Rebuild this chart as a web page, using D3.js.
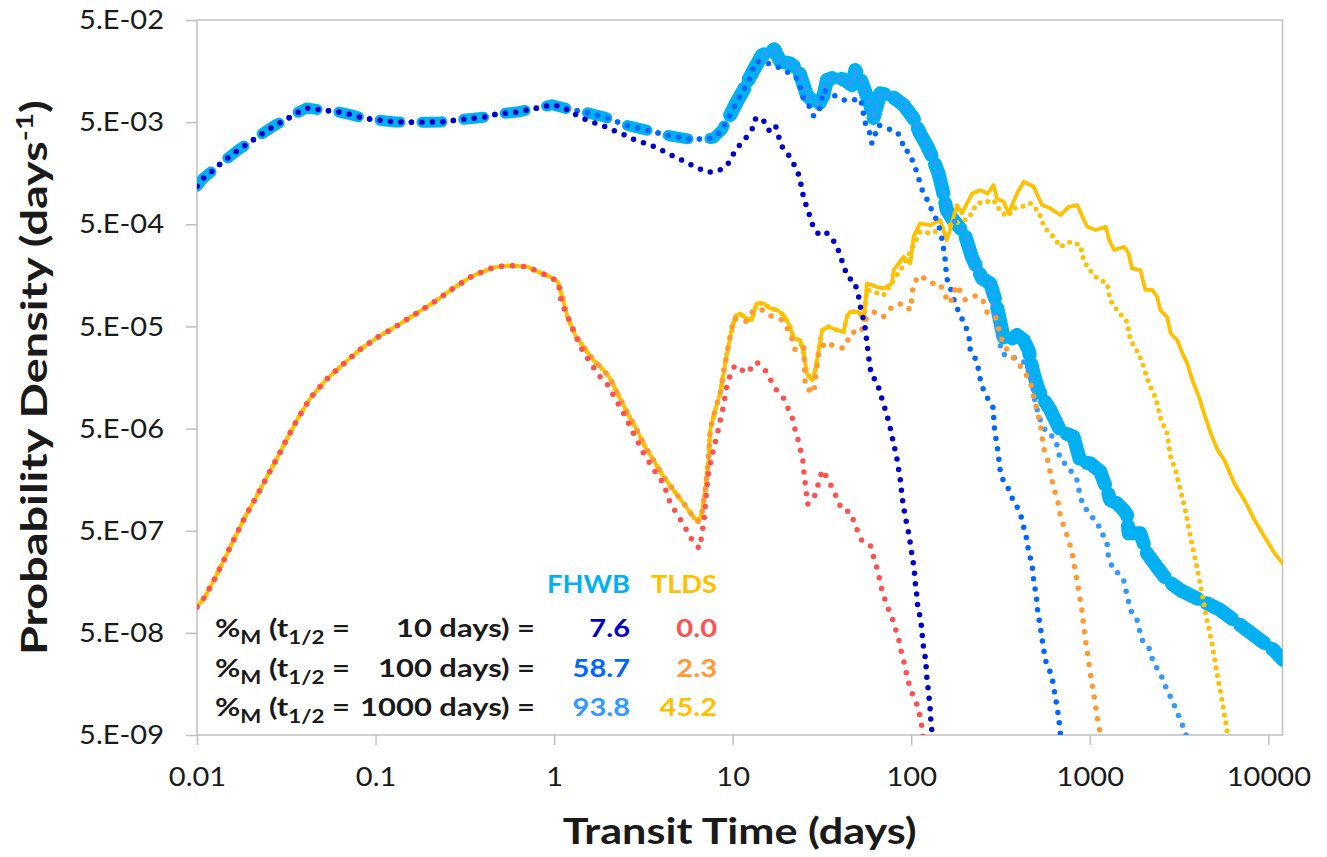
<!DOCTYPE html>
<html><head><meta charset="utf-8">
<script src="https://cdn.jsdelivr.net/npm/d3@7"></script>
<style>
body{margin:0;background:#fff}
svg text{font-family:Lato,"Open Sans",sans-serif}
</style>
</head><body>
<svg id="chart" width="1327" height="857"></svg>
<script>
// ---------------- DATA (transit time in days, probability density in 1/days) ----------------
const xTicks = [0.01, 0.1, 1, 10, 100, 1000, 10000];
const xTickLabels = ["0.01", "0.1", "1", "10", "100", "1000", "10000"];
const yTicks = [5e-9, 5e-8, 5e-7, 5e-6, 5e-5, 5e-4, 5e-3, 5e-2];
const yTickLabels = ["5.E-09", "5.E-08", "5.E-07", "5.E-06", "5.E-05", "5.E-04", "5.E-03", "5.E-02"];

// FHWB: common early part (all FHWB curves coincide before ~1 day)
const fhwbShared = [[0.01,1.18e-3],[0.0108,1.40e-3],[0.0122,1.67e-3],[0.0136,1.98e-3],[0.0152,2.29e-3],[0.0170,2.67e-3],[0.0193,3.10e-3],[0.0217,3.55e-3],[0.0245,4.12e-3],[0.0277,4.72e-3],[0.0317,5.33e-3],[0.0359,6.10e-3],[0.0410,6.87e-3],[0.0469,6.67e-3],[0.0540,6.47e-3],[0.0623,6.28e-3],[0.0714,5.96e-3],[0.0827,5.57e-3],[0.0954,5.33e-3],[0.111,5.16e-3],[0.129,5.02e-3],[0.149,4.99e-3],[0.172,4.99e-3],[0.198,5.0e-3],[0.231,5.02e-3],[0.267,5.16e-3],[0.308,5.33e-3],[0.357,5.45e-3],[0.411,5.61e-3],[0.476,6.00e-3],[0.549,6.14e-3],[0.636,6.32e-3],[0.736,6.67e-3],[0.848,6.98e-3],[0.970,7.40e-3]];
// FHWB total (no decay)
const fhwbTotalTail = [[1.26,6.57e-3],[1.45,6.32e-3],[1.89,5.65e-3],[2.52,4.68e-3],[3.29,4.18e-3],[4.49,3.66e-3],[5.86,3.39e-3],[7.78,3.47e-3],[8.70,4.18e-3],[9.68,5.87e-3],[10.56,7.92e-3],[11.5,1.03e-2],[12.5,1.39e-2],[13.4,1.74e-2],[14.6,2.27e-2],[15.9,2.39e-2],[17.1,2.58e-2],[18.5,1.95e-2],[21.0,1.88e-2],[23.4,1.62e-2],[26.0,9.21e-3],[28.4,7.92e-3],[30.3,7.36e-3],[32.3,9.21e-3],[33.7,1.29e-2],[37.5,1.39e-2],[42.7,1.29e-2],[46.5,1.15e-2],[48.6,1.62e-2],[52.3,1.29e-2],[55.3,9.92e-3],[58.9,7.36e-3],[61.5,5.45e-3],[67.0,9.57e-3],[76.3,9.21e-3],[90.6,7.36e-3],[103,5.45e-3],[112,3.88e-3],[122,2.98e-3],[131,2.29e-3],[142,1.58e-3],[149,1.13e-3],[158,6.89e-4],[169,5.72e-4],[188,4.56e-4],[201,3.83e-4],[219,2.36e-4],[249,1.48e-4],[277,1.32e-4],[296,9.06e-5],[308,6.71e-5],[329,3.89e-5],[359,3.68e-5],[391,4.12e-5],[426,3.68e-5],[454,2.94e-5],[484,1.74e-5],[517,1.19e-5],[563,9.09e-6],[601,7.59e-6],[684,4.73e-6],[811,4.16e-6],[885,2.37e-6],[1006,2.28e-6],[1145,1.89e-6],[1249,1.25e-6],[1302,9.99e-7],[1420,9.27e-7],[1547,7.97e-7],[1616,7.12e-7],[1650,4.71e-7],[1918,4.71e-7],[2092,3.00e-7],[2380,2.20e-7],[2708,1.64e-7],[3214,1.31e-7],[3815,1.13e-7],[4535,9.72e-8],[5384,8.36e-8],[6391,6.67e-8],[7599,5.32e-8],[9022,4.25e-8],[10708,3.39e-8],[12134,2.71e-8]];
// FHWB t1/2 = 10 days
const fhwb10Tail = [[1.11,7.07e-3],[1.26,6.18e-3],[1.45,5.45e-3],[1.65,4.99e-3],[1.89,4.58e-3],[2.17,4.12e-3],[2.49,3.74e-3],[2.84,3.34e-3],[3.26,3.10e-3],[3.73,2.83e-3],[4.24,2.51e-3],[4.87,2.24e-3],[5.54,2.00e-3],[6.30,1.79e-3],[7.22,1.61e-3],[8.30,1.66e-3],[9.35,1.91e-3],[10.0,2.38e-3],[10.9,2.96e-3],[12.0,3.60e-3],[13.0,4.41e-3],[13.5,5.57e-3],[15.2,5.02e-3],[16.1,4.06e-3],[17.4,4.58e-3],[18.1,3.60e-3],[19.0,2.83e-3],[20.7,2.34e-3],[22.1,1.91e-3],[23.4,1.53e-3],[24.2,1.20e-3],[24.9,9.30e-4],[26.0,7.33e-4],[27.2,5.85e-4],[28.4,4.56e-4],[30.3,4.01e-4],[33.0,4.23e-4],[36.0,3.64e-4],[38.4,3.01e-4],[40.4,2.35e-4],[42.3,1.85e-4],[44.5,1.48e-4],[47.5,1.42e-4],[49.6,1.15e-4],[51.3,9.06e-5],[52.3,7.12e-5],[54.5,5.56e-5],[55.7,4.28e-5],[56.5,3.41e-5],[57.6,2.68e-5],[58.4,2.09e-5],[60.2,1.63e-5],[64.2,1.44e-5],[67.0,1.11e-5],[70.0,8.69e-6],[73.1,6.78e-6],[75.6,5.41e-6],[78.0,4.32e-6],[79.6,3.45e-6],[82.4,2.86e-6],[83.8,2.28e-6],[86.0,1.79e-6],[87.6,1.40e-6],[88.7,1.09e-6],[90.6,8.58e-7],[92.6,6.76e-7],[95.4,5.39e-7],[97.8,4.27e-7],[99.6,3.36e-7],[102,2.62e-7],[104,2.06e-7],[105,1.62e-7],[107,1.26e-7],[108,9.86e-8],[111,7.76e-8],[113,6.57e-8],[115,5.12e-8],[116,4.00e-8],[119,3.15e-8],[121,2.42e-8],[122,1.89e-8],[124,1.48e-8],[126,1.14e-8],[128,8.44e-9],[129,6.50e-9],[131,5.19e-9],[133,4.0e-9]];
// FHWB t1/2 = 100 days (follows the total up to ~12 days)
const fhwb100Tail = [[12.5,1.35e-2],[13.4,1.95e-2],[14.9,1.95e-2],[18.1,1.72e-2],[20.1,1.56e-2],[22.9,1.34e-2],[23.9,1.10e-2],[24.9,8.55e-3],[26.6,7.36e-3],[28.4,5.74e-3],[30.3,6.18e-3],[32.3,1.03e-2],[36.7,9.21e-3],[41.8,8.23e-3],[45.5,8.10e-3],[51.8,8.55e-3],[53.6,6.82e-3],[54.5,5.10e-3],[57.7,4.35e-3],[60.2,3.10e-3],[65.6,4.68e-3],[73.1,4.35e-3],[83.2,4.03e-3],[88.7,3.34e-3],[90.6,2.67e-3],[96.6,2.57e-3],[103,1.98e-3],[108,1.58e-3],[112,1.26e-3],[117,1.00e-3],[125,8.31e-4],[131,6.64e-4],[139,5.50e-4],[145,4.39e-4],[149,3.50e-4],[152,2.80e-4],[155,2.23e-4],[158,1.48e-4],[165,1.22e-4],[176,8.41e-5],[188,6.46e-5],[196,5.56e-5],[205,4.61e-5],[212,3.68e-5],[214,2.94e-5],[228,2.43e-5],[238,1.91e-5],[244,1.49e-5],[254,1.19e-5],[271,9.51e-6],[289,7.89e-6],[290,5.62e-6],[296,4.32e-6],[302,3.45e-6],[308,2.75e-6],[312,2.11e-6],[322,1.63e-6],[344,1.40e-6],[359,1.12e-6],[382,9.27e-7],[408,7.39e-7],[426,5.47e-7],[445,4.05e-7],[454,3.11e-7],[474,2.40e-7],[481,1.84e-7],[489,1.47e-7],[502,1.17e-7],[506,9.15e-8],[517,7.19e-8],[528,5.74e-8],[540,4.42e-8],[551,3.52e-8],[563,2.71e-8],[588,2.25e-8],[614,1.86e-8],[627,1.48e-8],[641,1.18e-8],[660,8.77e-9],[677,6.25e-9],[684,5.19e-9],[692,4.0e-9]];
// FHWB t1/2 = 1000 days (follows the total up to ~280 days)
const fhwb1000Tail = [[289,7.79e-5],[302,4.96e-5],[322,2.72e-5],[351,2.56e-5],[391,2.43e-5],[426,2.24e-5],[445,2.26e-5],[474,1.49e-5],[495,8.83e-6],[528,6.06e-6],[576,4.42e-6],[627,4.16e-6],[655,3.45e-6],[684,2.46e-6],[744,2.20e-6],[847,1.57e-6],[885,1.08e-6],[923,8.58e-7],[1006,7.39e-7],[1096,5.68e-7],[1145,5.47e-7],[1195,4.36e-7],[1249,3.76e-7],[1274,2.68e-7],[1359,2.06e-7],[1420,1.98e-7],[1547,1.64e-7],[1616,1.17e-7],[1687,8.36e-8],[1839,6.67e-8],[1961,4.25e-8],[2136,3.65e-8],[2278,2.51e-8],[2483,2.01e-8],[2708,1.38e-8],[2888,1.10e-8],[3214,7.0e-9],[3428,5.38e-9],[3565,4.0e-9]];

// TLDS: common early part (all TLDS curves coincide before ~1 day)
const tldsShared = [[0.01,8.95e-8],[0.0111,1.13e-7],[0.0126,1.71e-7],[0.0143,2.68e-7],[0.0163,4.31e-7],[0.0186,6.85e-7],[0.0214,1.06e-6],[0.0246,1.67e-6],[0.0282,2.61e-6],[0.0322,4.10e-6],[0.0370,6.44e-6],[0.0430,9.88e-6],[0.0522,1.47e-5],[0.0648,2.09e-5],[0.0813,2.94e-5],[0.1023,3.91e-5],[0.131,5.04e-5],[0.167,6.61e-5],[0.214,8.72e-5],[0.272,1.18e-4],[0.348,1.56e-4],[0.457,1.89e-4],[0.532,1.96e-4],[0.612,1.96e-4],[0.709,1.92e-4],[0.817,1.71e-4],[0.929,1.56e-4],[1.049,1.37e-4]];
// TLDS total (no decay)
const tldsTotalTail = [[1.09,1.09e-4],[1.13,8.72e-5],[1.18,6.46e-5],[1.24,5.16e-5],[1.32,4.03e-5],[1.46,3.16e-5],[1.66,2.34e-5],[1.89,1.87e-5],[2.06,1.55e-5],[2.29,1.06e-5],[2.61,6.78e-6],[2.91,4.84e-6],[3.23,3.32e-6],[3.60,2.46e-6],[4.10,1.69e-6],[4.66,1.25e-6],[5.31,9.27e-7],[5.91,7.12e-7],[6.38,6.12e-7],[6.72,7.39e-7],[7.02,1.25e-6],[7.32,2.46e-6],[7.48,4.84e-6],[7.98,7.59e-6],[8.51,1.11e-5],[9.07,2.17e-5],[9.68,3.96e-5],[10.3,6.22e-5],[10.98,6.71e-5],[11.96,6.00e-5],[12.8,5.77e-5],[13.6,8.41e-5],[14.9,8.41e-5],[16.2,7.52e-5],[17.7,7.23e-5],[19.3,6.46e-5],[21.0,4.96e-5],[21.9,3.82e-5],[23.9,3.68e-5],[25.0,2.72e-5],[26.0,1.74e-5],[27.8,1.49e-5],[29.0,1.87e-5],[30.3,2.94e-5],[31.7,4.61e-5],[34.4,4.96e-5],[38.4,4.61e-5],[41.8,4.43e-5],[43.6,6.22e-5],[45.5,6.96e-5],[50.9,6.96e-5],[54.1,5.77e-5],[56.5,1.32e-4],[64.2,1.22e-4],[70.0,1.18e-4],[78.0,1.32e-4],[79.6,1.78e-4],[90.6,2.40e-4],[98.8,2.07e-4],[103,3.77e-4],[112,5.11e-4],[128,4.91e-4],[145,5.50e-4],[158,3.50e-4],[165,4.39e-4],[180,7.71e-4],[192,6.40e-4],[205,8.02e-4],[219,1.00e-3],[244,1.08e-3],[267,1.00e-3],[289,1.21e-3],[302,8.97e-4],[329,8.31e-4],[351,6.40e-4],[391,1.00e-3],[426,1.305e-3],[484,1.17e-3],[540,7.71e-4],[601,7.16e-4],[684,6.16e-4],[762,7.42e-4],[851,7.71e-4],[927,5.50e-4],[969,4.73e-4],[1078,4.39e-4],[1229,4.73e-4],[1284,3.50e-4],[1367,2.80e-4],[1557,3.01e-4],[1647,2.60e-4],[1722,1.85e-4],[1920,1.78e-4],[2047,1.14e-4],[2235,1.14e-4],[2383,9.76e-5],[2483,7.23e-5],[2708,6.22e-5],[2835,4.28e-5],[3088,3.68e-5],[3297,2.72e-5],[3515,2.17e-5],[3751,1.49e-5],[4087,1.02e-5],[4362,7.05e-6],[4758,4.49e-6],[5195,3.08e-6],[5667,2.46e-6],[6451,1.45e-6],[7345,9.99e-7],[8364,6.36e-7],[9521,4.36e-7],[10840,3.00e-7],[12241,2.30e-7]];
// TLDS t1/2 = 10 days
const tlds10Tail = [[1.057,1.32e-4],[1.10,8.41e-5],[1.18,6.46e-5],[1.26,4.96e-5],[1.40,3.16e-5],[1.52,2.52e-5],[1.77,1.67e-5],[1.97,1.39e-5],[2.25,9.15e-6],[2.45,7.05e-6],[2.78,4.49e-6],[3.17,2.86e-6],[3.68,1.89e-6],[4.10,1.45e-6],[4.47,9.27e-7],[5.19,6.12e-7],[5.65,4.71e-7],[6.03,3.81e-7],[6.52,3.36e-7],[6.72,4.53e-7],[6.92,6.60e-7],[7.10,1.08e-6],[7.31,1.82e-6],[7.78,3.08e-6],[8.30,4.84e-6],[8.86,8.18e-6],[9.25,1.28e-5],[9.68,1.67e-5],[10.3,2.09e-5],[12.0,1.74e-5],[13.6,2.25e-5],[15.2,1.87e-5],[17.3,1.24e-5],[19.3,9.88e-6],[21.6,6.30e-6],[22.5,4.65e-6],[23.4,3.72e-6],[24.7,2.46e-6],[25.1,1.82e-6],[26.3,9.06e-7],[29.0,1.12e-6],[31.7,1.96e-6],[34.4,1.57e-6],[38.4,1.04e-6],[40.9,7.97e-7],[45.5,7.67e-7],[49.8,5.08e-7],[52.8,4.05e-7],[58.9,3.62e-7],[62.9,2.43e-7],[65.6,1.91e-7],[67.0,1.50e-7],[70.0,1.17e-7],[73.1,9.15e-8],[78.0,7.09e-8],[81.4,5.53e-8],[84.9,4.42e-8],[88.7,3.03e-8],[92.6,2.33e-8],[94.6,1.86e-8],[98.8,1.43e-8],[103,1.18e-8],[108,9.82e-9],[111,8.14e-9],[114,6.50e-9],[115.5,5.19e-9],[119,4.0e-9]];
// TLDS t1/2 = 100 days (follows the total up to ~10 days)
const tlds100Tail = [[10.1,6.00e-5],[11.8,5.56e-5],[13.1,7.23e-5],[14.9,7.23e-5],[16.6,6.22e-5],[18.9,5.77e-5],[21.0,4.28e-5],[22.4,2.94e-5],[25.0,3.16e-5],[25.5,1.28e-5],[28.4,1.11e-5],[30.3,2.72e-5],[33.0,3.54e-5],[37.6,3.16e-5],[41.8,3.05e-5],[46.6,4.43e-5],[51.8,4.28e-5],[56.5,6.22e-5],[62.9,6.96e-5],[70.0,6.22e-5],[79.6,8.10e-5],[90.6,8.41e-5],[98.8,7.23e-5],[103,1.32e-4],[112,1.59e-4],[128,1.32e-4],[145,1.32e-4],[152,1.05e-4],[165,8.41e-5],[180,1.27e-4],[201,9.06e-5],[233,1.01e-4],[254,8.72e-5],[265,6.96e-5],[296,6.22e-5],[322,3.68e-5],[344,2.94e-5],[382,2.34e-5],[426,1.87e-5],[466,1.39e-5],[495,8.83e-6],[528,5.62e-6],[551,3.20e-6],[588,2.28e-6],[601,1.82e-6],[641,1.16e-6],[670,8.91e-7],[684,6.85e-7],[729,5.08e-7],[760,4.05e-7],[794,3.11e-7],[811,2.48e-7],[847,1.64e-7],[865,1.31e-7],[903,8.36e-8],[930,5.32e-8],[963,3.39e-8],[983,2.71e-8],[1006,2.01e-8],[1050,1.28e-8],[1073,1.02e-8],[1106,7.0e-9],[1135,5.59e-9],[1160,4.0e-9]];
// TLDS t1/2 = 1000 days (follows the total up to ~54 days)
const tlds1000Tail = [[56.5,1.14e-4],[70.0,1.01e-4],[79.6,1.42e-4],[90.6,1.99e-4],[103,3.13e-4],[112,4.20e-4],[128,4.10e-4],[145,4.39e-4],[165,4.91e-4],[188,5.30e-4],[210,5.72e-4],[233,8.02e-4],[265,8.31e-4],[289,8.63e-4],[317,6.64e-4],[344,5.93e-4],[375,7.16e-4],[415,7.42e-4],[466,8.02e-4],[518,6.64e-4],[540,5.30e-4],[576,4.39e-4],[627,3.77e-4],[684,3.01e-4],[778,3.37e-4],[885,3.13e-4],[923,2.23e-4],[985,1.85e-4],[1078,1.53e-4],[1249,1.32e-4],[1302,9.06e-5],[1420,7.23e-5],[1616,5.56e-5],[1687,3.68e-5],[1876,2.72e-5],[2001,2.01e-5],[2136,1.39e-5],[2329,1.02e-5],[2483,6.41e-6],[2708,4.49e-6],[2835,2.65e-6],[3020,1.96e-6],[3214,1.25e-6],[3428,7.97e-7],[3656,4.36e-7],[3980,2.22e-7],[4245,1.22e-7],[4530,6.67e-8],[4833,3.95e-8],[5156,2.01e-8],[5500,1.10e-8],[5865,5.59e-9],[5960,4.0e-9]];

// annotation table
const halfLives = ["10", "100", "1000"];
const fhwbPercent = ["7.6", "58.7", "93.8"];
const tldsPercent = ["0.0", "2.3", "45.2"];

// ---------------- assemble series ----------------
const fhwbTotal = fhwbShared.concat(fhwbTotalTail);
const fhwb10 = fhwbShared.concat(fhwb10Tail);
const fhwb100 = fhwbShared.concat(fhwbTotalTail.filter(d => d[0] <= 11.5), fhwb100Tail);
const fhwb1000 = fhwbShared.concat(fhwbTotalTail.filter(d => d[0] <= 277), fhwb1000Tail);
const tldsTotal = tldsShared.concat(tldsTotalTail);
const tlds10 = tldsShared.concat(tlds10Tail);
const tlds100 = tldsShared.concat(tldsTotalTail.filter(d => d[0] <= 9.68), tlds100Tail);
const tlds1000 = tldsShared.concat(tldsTotalTail.filter(d => d[0] <= 54.1), tlds1000Tail);
// the thick FHWB total line: sparse dashes early, dense blobs after the 10-day rise
const fhwbTotalEarly = fhwbTotal.filter(d => d[0] <= 9.68);
const fhwbTotalLate = fhwbTotal.filter(d => d[0] >= 9.68);

const C = {cyan:"#00B0F0", navy:"#0000CC", blue:"#0066FF", lblue:"#3399FF",
           gold:"#FFC000", red:"#FF5050", orange:"#FF9933", grid:"#BFBFBF", text:"#1a1a1a"};

const series = [
  {data: fhwbTotalEarly, color: C.cyan, width: 11,  dash: "20 22"},
  {data: fhwbTotalLate,  color: C.cyan, width: 14,  dash: "30 10"},
  {data: tldsTotal, color: C.gold,   width: 3.8, dash: null},
  {data: tlds1000,  color: C.gold,   width: 5,   dash: "0 8"},
  {data: fhwb1000,  color: C.lblue,  width: 5.5, dash: "0 10.5"},
  {data: fhwb100,   color: C.blue,   width: 5.5, dash: "0 10.5"},
  {data: tlds100,   color: C.orange, width: 5.5, dash: "0 11"},
  {data: fhwb10,    color: C.navy,   width: 5.5, dash: "0 10.5"},
  {data: tlds10,    color: C.red,    width: 5.5, dash: "0 11"}
];

// ---------------- drawing ----------------
const L = 197, R = 1282.5, T = 20, B = 735;
const svg = d3.select("#chart");
const x = d3.scaleLog().domain([0.01, 12000]).range([L, R]);
const y = d3.scaleLog().domain([5e-9, 5e-2]).range([B, T]);

svg.append("defs").append("clipPath").attr("id", "clip")
  .append("rect").attr("x", L).attr("y", T).attr("width", R - L).attr("height", B - T);

// horizontally widen a text element (the reference lettering is wide)
function widen(sel, k) {
  sel.each(function () {
    const t = d3.select(this);
    const x0 = +(t.attr("x") || 0);
    t.attr("x", x0 / k).attr("transform", `scale(${k},1)`);
  });
}
function widthOf(str, size, weight) {
  const t = svg.append("text").attr("font-size", size).attr("font-weight", weight).text(str);
  const w = t.node().getComputedTextLength(); t.remove(); return w;
}

// axes
const TICK_FS = 27;
const kTick = 85 / widthOf("5.E-02", TICK_FS, 400);
const gx = svg.append("g").attr("transform", `translate(0,${B})`)
  .call(d3.axisBottom(x).tickValues(xTicks).tickFormat((d, i) => xTickLabels[i])
        .tickSize(10).tickSizeOuter(0).tickPadding(22));
const gy = svg.append("g").attr("transform", `translate(${L},0)`)
  .call(d3.axisLeft(y).tickValues(yTicks).tickFormat((d, i) => yTickLabels[i])
        .tickSize(11).tickSizeOuter(0).tickPadding(22));
[gx, gy].forEach(g => {
  g.select(".domain").remove();
  g.selectAll(".tick line").attr("stroke", C.grid).attr("stroke-width", 1.5);
  g.selectAll(".tick text").attr("font-size", TICK_FS).attr("fill", C.text)
    .style("font-family", "Lato, 'Open Sans', sans-serif");
  widen(g.selectAll(".tick text"), kTick);
});

// plot frame
svg.append("rect").attr("x", L).attr("y", T).attr("width", R - L).attr("height", B - T)
  .attr("fill", "none").attr("stroke", C.grid).attr("stroke-width", 1.5);

// series
const line = d3.line().x(d => x(d[0])).y(d => y(d[1]));
const gs = svg.append("g").attr("clip-path", "url(#clip)");
series.forEach(s => {
  gs.append("path").datum(s.data).attr("d", line)
    .attr("fill", "none").attr("stroke", s.color).attr("stroke-width", s.width)
    .attr("stroke-linecap", "round").attr("stroke-linejoin", "round")
    .attr("stroke-dasharray", s.dash);
});

// axis titles
const TITLE_FS = 36;
const kTitle = 354 / widthOf("Transit Time (days)", TITLE_FS, 700);
svg.append("g").attr("transform", `translate(${(L + R) / 2},844) scale(${kTitle},1)`)
  .append("text").attr("text-anchor", "middle")
  .attr("font-size", TITLE_FS).attr("font-weight", 700).attr("fill", C.text).text("Transit Time (days)");
const ytG = svg.append("g");
const yt = ytG.append("text").attr("text-anchor", "middle").attr("font-size", TITLE_FS)
  .attr("font-weight", 700).attr("fill", C.text);
yt.append("tspan").text("Probability Density (days");
yt.append("tspan").attr("font-size", 23).attr("dy", -14).text("-1");
yt.append("tspan").attr("dy", 14).text(")");
const kYTitle = 555 / yt.node().getComputedTextLength();
ytG.attr("transform", `translate(47,${(T + B) / 2}) rotate(-90) scale(${kYTitle},1)`);

// annotation block
const ANNO_FS = 25;
const kHead = 83 / widthOf("FHWB", ANNO_FS, 700);
const kRow = 175 / widthOf("1000 days) =", ANNO_FS, 700);
const kNum = 57.5 / widthOf("58.7", ANNO_FS, 700);
const ga = svg.append("g").attr("font-weight", 700).attr("font-size", ANNO_FS);
function annoText(px, py, k, anchor, color) {
  return ga.append("g").attr("transform", `translate(${px},${py}) scale(${k},1)`)
    .append("text").attr("text-anchor", anchor).attr("fill", color);
}
annoText(630, 593, kHead, "end", C.cyan).text("FHWB");
annoText(717, 593, kHead, "end", C.gold).text("TLDS");
const fColors = [C.navy, C.blue, C.lblue];
const tColors = [C.red, C.orange, C.gold];
halfLives.forEach((h, i) => {
  const by = 637 + i * 39.5;
  const t = annoText(215, by, kRow, "start", C.text);
  t.append("tspan").text("%");
  t.append("tspan").attr("font-size", 18).attr("dy", 7).text("M");
  t.append("tspan").attr("dy", -7).text(" (t");
  t.append("tspan").attr("font-size", 18).attr("dy", 7).text("1/2");
  t.append("tspan").attr("dy", -7).text(" =");
  annoText(535, by, kRow, "end", C.text).text(`${h} days) =`);
  annoText(630, by, kNum, "end", fColors[i]).text(fhwbPercent[i]);
  annoText(717, by, kNum, "end", tColors[i]).text(tldsPercent[i]);
});
</script>
</body></html>
